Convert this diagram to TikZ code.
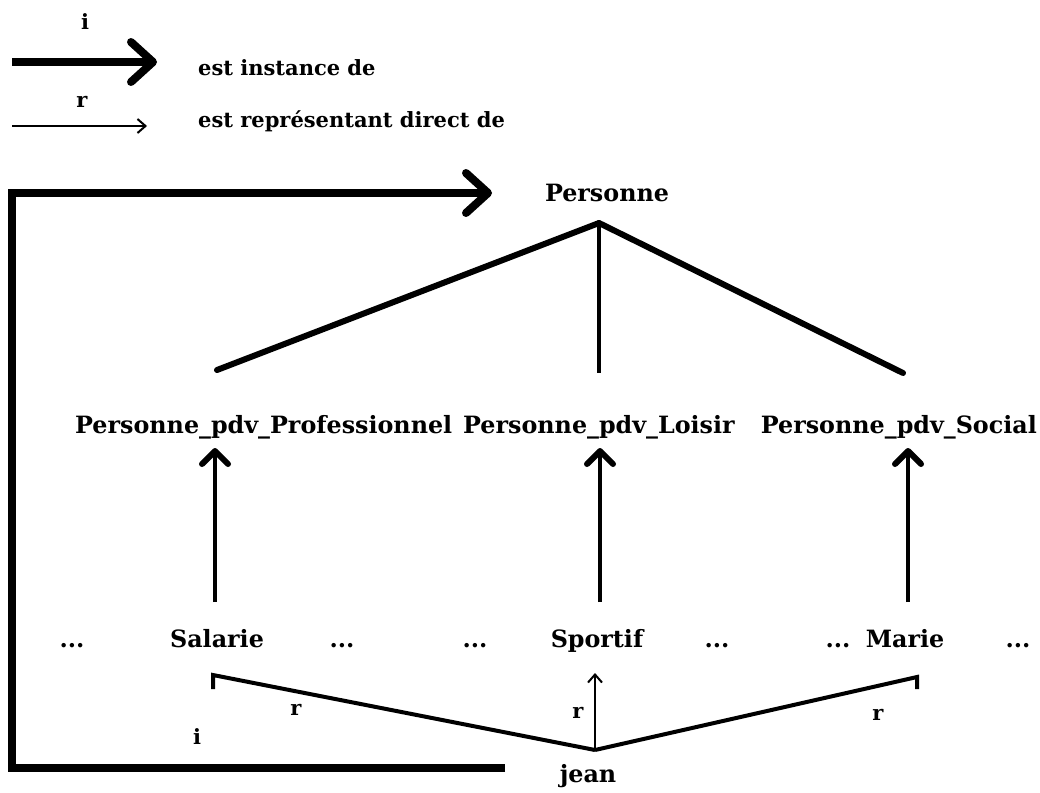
\documentclass[tikz,border=0pt]{standalone}
\usepackage{fontspec}
\setmainfont{DejaVu Serif}
\usetikzlibrary{arrows.meta}
\begin{document}
\begin{tikzpicture}[x=1pt,y=-1pt,
  lbl/.style={font=\bfseries\fontsize{23.8}{26}\selectfont, inner sep=0pt},
  small/.style={font=\bfseries\fontsize{21}{24}\selectfont, inner sep=0pt},
  tag/.style={font=\bfseries\fontsize{21}{24}\selectfont, inner sep=0pt},
  inst/.style={line width=8pt, -{Straight Barb[length=22pt,width=40pt,line width=8pt,round]}},
  repr/.style={line width=2pt, -{Straight Barb[length=8pt,width=14pt,line width=2pt]}},
  hier/.style={line width=6pt, line cap=round},
  axis/.style={line width=3.5pt},
  upar/.style={line width=4pt, -{Straight Barb[length=13pt,width=26pt,line width=6pt,round]}},
  rline/.style={line width=4pt, line join=miter}
]
\useasboundingbox (0,0) rectangle (1040,792);

% legend
\node[tag] (legi) at (85,22) {i};
\coordinate (li0) at (12,62);
\coordinate (li1) at (157,62);
\draw[inst] (li0) -- (li1);
\node[small,anchor=west] (legitext) at (198,68) {est instance de};
\node[tag] (legr) at (82,102) {r};
\coordinate (lr0) at (12,126);
\coordinate (lr1) at (147,126);
\draw[repr] (lr0) -- (lr1);
\node[small,anchor=west] (legrtext) at (198,121) {est représentant direct de};

% top concept and its three points of view
\node[lbl] (pers) at (607,193) {Personne};
\coordinate (apex) at (599,223);
\node[lbl,anchor=base west] (prof) at (75,433) {Personne\_pdv\_Professionnel};
\node[lbl,anchor=base west] (loisir) at (463,433) {Personne\_pdv\_Loisir};
\node[lbl,anchor=base east] (social) at (1037,433) {Personne\_pdv\_Social};
\coordinate (profTop) at (217,370);
\coordinate (loisirTop) at (599,373);
\coordinate (socialTop) at (903,373);
\draw[hier] (apex) -- (profTop);
\draw[axis] (apex) -- (loisirTop);
\draw[hier] (apex) -- (socialTop);

% lower row
\node[lbl,anchor=base] (d1) at (72,647) {...};
\node[lbl,anchor=base] (sal) at (217,647) {Salarie};
\node[lbl,anchor=base] (d2) at (342,647) {...};
\node[lbl,anchor=base] (d3) at (475,647) {...};
\node[lbl,anchor=base] (spo) at (597,647) {Sportif};
\node[lbl,anchor=base] (d4) at (717,647) {...};
\node[lbl,anchor=base] (d5) at (838,647) {...};
\node[lbl,anchor=base] (mar) at (905,647) {Marie};
\node[lbl,anchor=base] (d6) at (1018,647) {...};

\coordinate (salUp) at (215,602);
\coordinate (profDown) at (215,448);
\coordinate (spoUp) at (600,602);
\coordinate (loisirDown) at (600,448);
\coordinate (marUp) at (908,602);
\coordinate (socialDown) at (908,448);
\draw[upar] (salUp) -- (profDown);
\draw[upar] (spoUp) -- (loisirDown);
\draw[upar] (marUp) -- (socialDown);

% jean and its direct representatives
\node[lbl,anchor=base] (jean) at (588,782) {jean};
\coordinate (jpt) at (595,750);
\coordinate (salTip) at (213,675);
\coordinate (marTip) at (917,677);
\coordinate (spoTip) at (595,673);
\draw[rline] (jpt) -- (salTip) -- ++(0,14);
\draw[rline] (jpt) -- (marTip) -- ++(0,12);
\draw[repr] (jpt) -- (spoTip);
\node[tag] (r1) at (296,710) {r};
\node[tag] (r2) at (578,713) {r};
\node[tag] (r3) at (878,715) {r};

% instance link from jean back to Personne
\coordinate (loopS) at (505,768);
\coordinate (loopE) at (492,193);
\draw[inst] (loopS) -- (12,768) -- (12,193) -- (loopE);
\node[tag] (li) at (197,737) {i};
\end{tikzpicture}
\end{document}
